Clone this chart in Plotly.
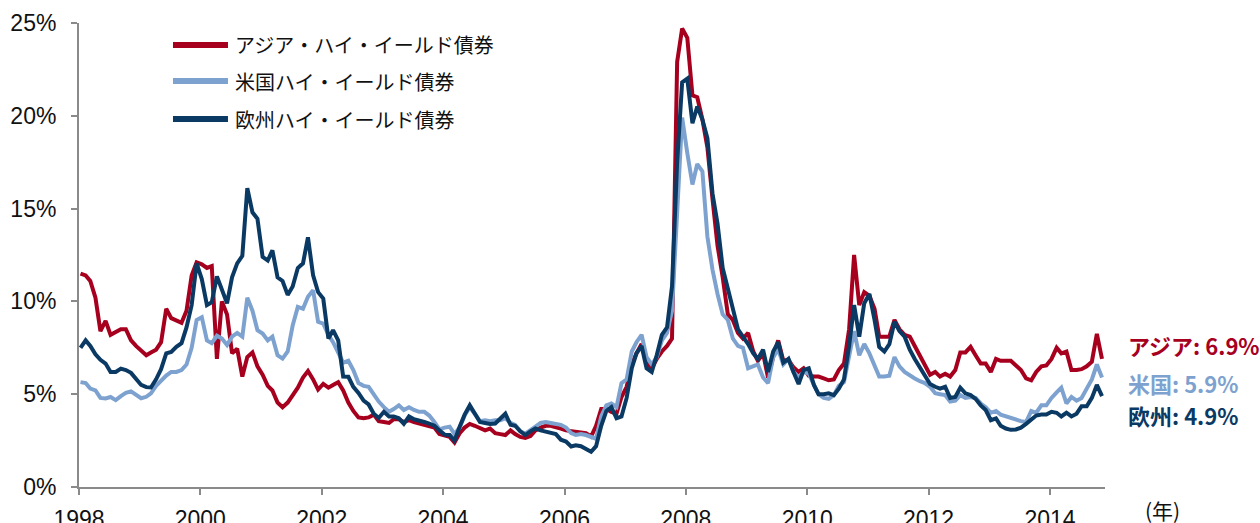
import pandas as pd
import plotly.graph_objects as go

# Monthly yields (%), Jan 1998 - Nov 2014
asia = [
    11.5, 11.4, 11.1, 10.2, 8.4, 8.95, 8.2, 8.35, 8.5, 8.5, 7.9, 7.6,
    7.35, 7.1, 7.25, 7.4, 7.8, 9.6, 9.1, 8.95, 8.85, 9.5, 11.4, 12.1,
    12.0, 11.8, 11.9, 6.9, 10.0, 9.3, 7.2, 7.45, 5.95, 7.0, 7.25, 6.5,
    6.05, 5.45, 5.2, 4.55, 4.3, 4.55, 4.95, 5.35, 5.9, 6.25, 5.8, 5.25,
    5.55, 5.35, 5.5, 5.65, 5.2, 4.55, 4.1, 3.75, 3.7, 3.75, 3.9, 3.55,
    3.5, 3.45, 3.65, 3.65, 3.5, 3.6, 3.5, 3.42, 3.35, 3.3, 3.2, 2.85,
    2.8, 2.7, 2.4, 2.9, 3.2, 3.4, 3.3, 3.15, 3.05, 3.15, 2.9, 2.85,
    2.8, 3.05, 2.85, 2.7, 2.65, 2.75, 3.05, 3.2, 3.3, 3.3, 3.25, 3.15,
    3.05, 3.0, 3.0, 2.9, 2.9, 2.72, 3.3, 4.2, 4.2, 4.05, 3.95, 4.85,
    5.4, 6.6, 7.2, 7.7, 6.7, 6.4, 6.9, 7.3, 7.6, 8.0, 22.9, 24.7,
    24.2, 21.1, 21.0, 19.8, 18.3, 15.5, 13.0, 11.3, 9.3, 9.0, 8.3, 8.0,
    8.3, 7.3, 6.8, 7.2, 5.9, 7.0, 7.9, 6.8, 6.85, 6.45, 6.2, 6.4,
    6.0, 5.95, 5.95, 5.85, 5.75, 5.8, 6.3, 6.65, 8.5, 12.5, 9.8, 10.5,
    10.3, 9.6, 8.1, 8.1, 8.1, 9.0, 8.5, 8.2, 8.1, 7.6, 7.05, 6.5,
    6.05, 6.2, 5.95, 6.1, 5.95, 6.3, 7.25, 7.25, 7.55, 7.1, 6.65, 6.65,
    6.2, 6.9, 6.8, 6.8, 6.8, 6.55, 6.3, 5.85, 5.75, 6.2, 6.5, 6.55,
    6.9, 7.5, 7.2, 7.3, 6.3, 6.3, 6.35, 6.5, 6.75, 8.25, 6.9,
]
us = [
    5.65, 5.6, 5.3, 5.2, 4.8, 4.77, 4.85, 4.68, 4.9, 5.07, 5.15, 4.95,
    4.78, 4.86, 5.05, 5.45, 5.75, 6.0, 6.2, 6.2, 6.3, 6.6, 7.5, 9.0,
    9.15, 7.9, 7.75, 8.15, 8.0, 7.65, 8.1, 8.3, 8.1, 10.2, 9.5, 8.45,
    8.27, 7.9, 8.1, 7.1, 6.92, 7.3, 8.7, 9.7, 9.6, 10.25, 10.6, 8.9,
    8.8, 8.2, 7.8, 7.2, 6.7, 6.8, 6.3, 5.6, 5.45, 5.4, 5.0, 4.6,
    4.3, 4.05, 4.2, 4.4, 4.15, 4.3, 4.15, 4.05, 4.05, 3.85, 3.5, 3.1,
    3.2, 3.25, 2.85, 3.2, 3.85, 4.3, 3.95, 3.55, 3.6, 3.55, 3.6, 3.6,
    3.7, 3.45, 3.35, 3.0, 2.88, 3.05, 3.25, 3.45, 3.5, 3.45, 3.42, 3.35,
    3.2, 2.9, 2.8, 2.85, 2.8, 2.7, 2.6, 3.8, 4.4, 4.5, 4.3, 5.6,
    5.8, 7.3, 7.8, 8.2, 7.0, 6.6, 7.0, 7.9, 8.3, 9.5, 14.5, 19.9,
    18.0, 16.3, 17.4, 17.0, 13.5, 11.7, 10.4, 9.3, 9.0, 8.0, 7.6, 7.5,
    6.4, 6.5, 6.6, 5.9, 5.6, 7.0, 7.4, 6.6, 6.9, 6.2, 5.9, 6.2,
    6.1, 5.5, 5.0, 4.8, 4.75, 4.95, 5.45, 5.65, 7.0, 8.4, 7.1, 7.7,
    7.2, 6.5, 5.95, 5.95, 6.0, 7.0, 6.5, 6.2, 6.0, 5.85, 5.7, 5.6,
    5.4, 5.05, 5.0, 4.95, 4.6, 4.65, 4.95, 4.8, 4.85, 4.8, 4.5, 4.3,
    4.0, 4.1, 3.9, 3.8, 3.7, 3.65, 3.55, 3.5, 4.1, 4.0, 4.4, 4.4,
    4.8, 5.1, 5.35, 4.5, 4.85, 4.65, 4.8, 5.3, 5.8, 6.6, 5.9,
]
europe = [
    7.5, 7.9, 7.6, 7.15, 6.85, 6.65, 6.2, 6.2, 6.38, 6.3, 6.15, 5.8,
    5.5, 5.38, 5.36, 5.8, 6.35, 7.2, 7.28, 7.55, 7.75, 8.6, 9.8, 12.05,
    11.2, 9.8, 9.95, 11.35, 10.6, 9.9, 11.3, 12.05, 12.45, 16.1, 14.8, 14.45,
    12.4, 12.2, 12.75, 11.3, 11.1, 10.35, 10.8, 11.8, 12.05, 13.45, 11.4, 10.5,
    10.15, 8.0, 8.45, 7.9, 5.95, 5.94, 5.4, 5.07, 4.65, 4.45, 3.95, 3.72,
    4.05, 3.8, 3.8, 3.7, 3.4, 3.8, 3.65, 3.6, 3.5, 3.42, 3.3, 3.05,
    2.82, 2.8, 2.5, 3.25, 3.9, 4.4, 4.0, 3.5, 3.45, 3.4, 3.42, 3.7,
    3.95, 3.35, 3.3, 3.0, 2.8, 3.0, 3.15, 3.05, 2.97, 2.88, 2.85, 2.55,
    2.45, 2.18, 2.25, 2.2, 2.07, 1.9, 2.2, 3.3, 4.1, 4.3, 3.7, 3.8,
    4.8, 6.4, 7.2, 7.6, 6.4, 6.2, 7.1, 8.2, 8.6, 10.8, 17.5, 21.8,
    22.0, 19.6, 20.5, 19.8, 18.8, 15.8, 14.2, 11.8, 10.7, 9.5, 8.5, 8.1,
    7.7, 7.2, 6.9, 7.4, 6.2, 7.3, 7.8, 6.7, 6.9, 6.2, 5.55, 6.3,
    6.4, 5.5, 5.0, 5.0, 5.05, 4.95, 5.3, 5.8, 7.6, 9.8, 8.1, 9.9,
    10.4, 9.0, 7.55, 7.3, 7.7, 8.9, 8.4, 8.1, 7.4, 6.9, 6.45, 6.0,
    5.55, 5.4, 5.3, 5.4, 4.8, 4.85, 5.35, 5.05, 4.95, 4.75, 4.4, 4.15,
    3.6, 3.7, 3.3, 3.15, 3.08, 3.1, 3.2, 3.4, 3.6, 3.85, 3.9, 3.9,
    4.05, 4.0, 3.8, 4.0, 3.8, 3.95, 4.35, 4.35, 4.8, 5.5, 4.9,
]

series_names = ["アジア・ハイ・イールド債券", "米国ハイ・イールド債券", "欧州ハイ・イールド債券"]
end_labels = ["アジア: 6.9%", "米国: 5.9%", "欧州: 4.9%"]
y_ticks = [0, 5, 10, 15, 20, 25]
y_tick_text = ["0%", "5%", "10%", "15%", "20%", "25%"]
x_tick_years = ["1998", "2000", "2002", "2004", "2006", "2008", "2010", "2012", "2014"]

colors = ["#A6001E", "#7DA2CF", "#0A3A63"]

dates = pd.date_range("1998-01-01", periods=len(asia), freq="MS") + pd.Timedelta(days=9)

fig = go.Figure()
for vals, name, col in zip([asia, us, europe], series_names, colors):
    fig.add_trace(go.Scatter(x=dates, y=vals, mode="lines", name=name,
                             line=dict(color=col, width=4), showlegend=False))

# Manual legend (line samples + text)
leg_y = [0.9526, 0.875, 0.793]
for name, col, yy in zip(series_names, colors, leg_y):
    fig.add_shape(type="line", xref="paper", yref="paper",
                  x0=0.0916, x1=0.1452, y0=yy, y1=yy,
                  line=dict(color=col, width=6))
    fig.add_annotation(xref="paper", yref="paper", x=0.150, y=yy, text=name,
                       showarrow=False, xanchor="left", yanchor="middle",
                       font=dict(family="Noto Sans CJK JP", size=20, color="#111"))

# End labels
end_y = [0.306, 0.224, 0.155]
for lab, col, yy in zip(end_labels, colors, end_y):
    fig.add_annotation(xref="paper", yref="paper", x=1.0204, y=yy,
                       text="<b>" + lab + "</b>", showarrow=False,
                       xanchor="left", yanchor="middle",
                       font=dict(family="Noto Sans CJK JP", size=22, color=col))

fig.add_annotation(xref="paper", yref="paper", x=1.0565, y=-0.05, text="(年)",
                   showarrow=False, xanchor="center", yanchor="middle",
                   font=dict(family="Noto Sans CJK JP", size=21, color="#111"))

axis_col = "#8a8a8a"
fig.update_layout(
    width=1260, height=523,
    margin=dict(l=79, r=155, t=23, b=36),
    paper_bgcolor="white", plot_bgcolor="white",
    font=dict(family="Liberation Sans, Arial", size=23, color="#111"),
    xaxis=dict(
        type="date", automargin=False,
        range=["1998-01-01", "2014-11-28"],
        tickvals=[y + "-01-01" for y in x_tick_years],
        ticktext=x_tick_years,
        showgrid=False, zeroline=False,
        showline=True, linecolor=axis_col, linewidth=2,
        ticks="outside", ticklen=6, tickwidth=2, tickcolor=axis_col,
        ticklabelstandoff=4,
        tickfont=dict(size=23, color="#111"),
    ),
    yaxis=dict(
        range=[0, 25], automargin=False,
        tickvals=y_ticks, ticktext=y_tick_text,
        showgrid=False, zeroline=False,
        showline=True, linecolor=axis_col, linewidth=2,
        ticks="outside", ticklen=6, tickwidth=2, tickcolor=axis_col,
        ticklabelstandoff=10,
        tickfont=dict(size=23, color="#111"),
    ),
)

fig.write_html("out.html")
